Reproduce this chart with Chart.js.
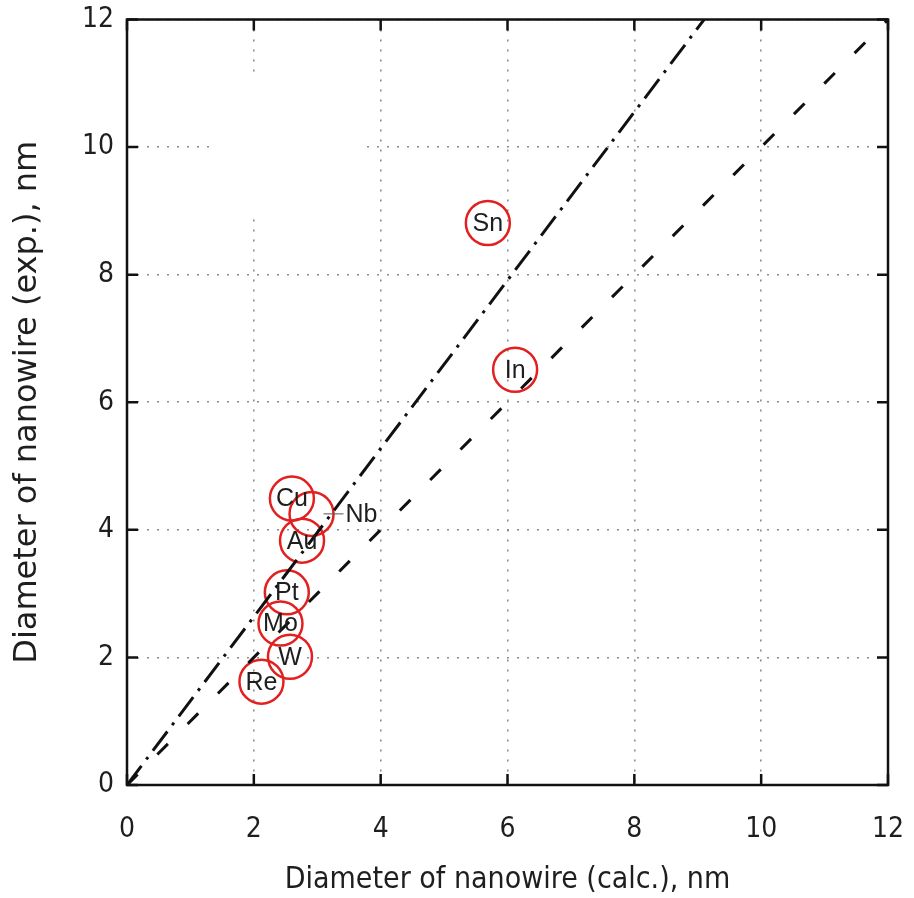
<!DOCTYPE html>
<html>
<head>
<meta charset="utf-8">
<script src="https://cdn.jsdelivr.net/npm/chart.js@4/dist/chart.umd.min.js"></script>
<style>
  html, body { margin: 0; padding: 0; background: #ffffff; overflow: hidden; }
  #wrap { width: 914px; height: 898px; overflow: hidden; }
  #c { display: block; margin-top: -5px; }
</style>
</head>
<body>
<div id="wrap"><canvas id="c" width="914" height="903"></canvas></div>
<script>
// Nanowire diameters: calculated (x) vs experimental (y), nm
const elements     = ['Sn', 'In', 'Cu', 'Nb', 'Au', 'Pt', 'Mo', 'W', 'Re'];
const calcDiameter = [5.69, 6.12, 2.60, 2.91, 2.76, 2.52, 2.42, 2.57, 2.12];
const expDiameter  = [8.81, 6.51, 4.49, 4.25, 3.83, 3.02, 2.53, 2.01, 1.62];

// Reference lines (end points)
const steepLineX = [0, 9.1];
const steepLineY = [0, 12];
const unityLineX = [0, 12];
const unityLineY = [0, 12];

// Axis ticks
const axisTicks = [0, 2, 4, 6, 8, 10, 12];

// Blank key box area, in data units [x0, x1, y0, y1]
const keyBox = [1.34, 3.76, 8.92, 11.11];

const pts = (xs, ys) => xs.map((x, i) => ({ x: x, y: ys[i] }));

const TICK_FONT = { family: '"DejaVu Sans Condensed", "Liberation Sans Narrow", "DejaVu Sans", sans-serif', size: 28 };
const TEXT_COLOR = '#1e1e1e';

const framePlugin = {
  id: 'gnuFrame',
  beforeDatasetsDraw(chart) {
    const { ctx, scales: { x, y } } = chart;
    ctx.save();
    ctx.fillStyle = '#ffffff';
    const x0 = x.getPixelForValue(keyBox[0]), x1 = x.getPixelForValue(keyBox[1]);
    const y0 = y.getPixelForValue(keyBox[2]), y1 = y.getPixelForValue(keyBox[3]);
    ctx.fillRect(x0, y1, x1 - x0, y0 - y1);
    ctx.restore();
  },
  afterDatasetsDraw(chart) {
    const { ctx, chartArea: a, scales: { x, y } } = chart;
    ctx.save();
    // element labels inside circles
    ctx.fillStyle = TEXT_COLOR;
    ctx.font = '25px "Liberation Sans", Arial, sans-serif';
    ctx.textAlign = 'center';
    ctx.textBaseline = 'middle';
    elements.forEach((el, i) => {
      const px = x.getPixelForValue(calcDiameter[i]);
      const py = y.getPixelForValue(expDiameter[i]);
      if (el === 'Nb') {
        ctx.save();
        ctx.strokeStyle = '#555';
        ctx.lineWidth = 1;
        ctx.beginPath();
        ctx.moveTo(px + 12, py);
        ctx.lineTo(px + 32, py);
        ctx.stroke();
        ctx.textAlign = 'left';
        ctx.fillText(el, px + 34, py + 1);
        ctx.restore();
      } else {
        ctx.fillText(el, px, py + 1);
      }
    });

    // frame
    ctx.strokeStyle = '#111';
    ctx.lineWidth = 2.5;
    ctx.strokeRect(a.left, a.top, a.right - a.left, a.bottom - a.top);
    // inward ticks on all four sides
    const len = 11;
    ctx.beginPath();
    axisTicks.forEach(v => {
      const px = x.getPixelForValue(v);
      ctx.moveTo(px, a.bottom); ctx.lineTo(px, a.bottom - len);
      ctx.moveTo(px, a.top);    ctx.lineTo(px, a.top + len);
      const py = y.getPixelForValue(v);
      ctx.moveTo(a.left, py);  ctx.lineTo(a.left + len, py);
      ctx.moveTo(a.right, py); ctx.lineTo(a.right - len, py);
    });
    ctx.stroke();
    ctx.restore();
  }
};

const gridCommon = {
  color: '#8c8c8c',
  lineWidth: 1.6,
  drawTicks: false
};

new Chart(document.getElementById('c'), {
  type: 'scatter',
  data: {
    datasets: [
      {
        label: 'steep',
        data: pts(steepLineX, steepLineY),
        showLine: true,
        borderColor: '#111',
        borderWidth: 3,
        borderDash: [24, 8, 3, 8],
        pointRadius: 0,
        fill: false
      },
      {
        label: 'unity',
        data: pts(unityLineX, unityLineY),
        showLine: true,
        borderColor: '#111',
        borderWidth: 3,
        borderDash: [15, 28],
        pointRadius: 0,
        fill: false
      },
      {
        label: 'elements',
        data: pts(calcDiameter, expDiameter),
        showLine: false,
        pointStyle: 'circle',
        pointRadius: 22,
        pointBorderWidth: 2.5,
        borderColor: 'rgb(226, 32, 32)',
        backgroundColor: 'rgba(0,0,0,0)',
        pointBackgroundColor: 'rgba(0,0,0,0)'
      }
    ]
  },
  options: {
    responsive: false,
    animation: false,
    devicePixelRatio: 1,
    layout: { padding: { left: 0, right: 26, top: 20, bottom: 0 } },
    plugins: { legend: { display: false }, tooltip: { enabled: false } },
    scales: {
      x: {
        type: 'linear',
        min: 0, max: 12,
        afterBuildTicks(scale) { scale.ticks = axisTicks.map(v => ({ value: v })); },
        afterFit(scale) { scale.height = 113; scale.paddingLeft = 0; scale.paddingRight = 0; },
        ticks: { font: TICK_FONT, color: TEXT_COLOR, padding: 28, maxRotation: 0 },
        grid: gridCommon,
        border: { display: false, dash: [2, 8] },
        title: {
          display: true,
          text: 'Diameter of nanowire (calc.), nm',
          color: TEXT_COLOR,
          font: { family: '"DejaVu Sans Condensed", "Liberation Sans Narrow", "DejaVu Sans", sans-serif', size: 30 },
          padding: { top: 0, bottom: 0 }
        }
      },
      y: {
        type: 'linear',
        min: 0, max: 12,
        afterBuildTicks(scale) { scale.ticks = axisTicks.map(v => ({ value: v })); },
        afterFit(scale) { scale.width = 127; scale.paddingTop = 0; scale.paddingBottom = 0; },
        ticks: { font: TICK_FONT, color: TEXT_COLOR, padding: 13 },
        grid: gridCommon,
        border: { display: false, dash: [2, 8] },
        title: {
          display: true,
          text: 'Diameter of nanowire (exp.), nm',
          color: TEXT_COLOR,
          font: { family: '"DejaVu Sans", Verdana, sans-serif', size: 32 },
          padding: { top: 8, bottom: 0 }
        }
      }
    }
  },
  plugins: [framePlugin]
});
</script>
</body>
</html>
